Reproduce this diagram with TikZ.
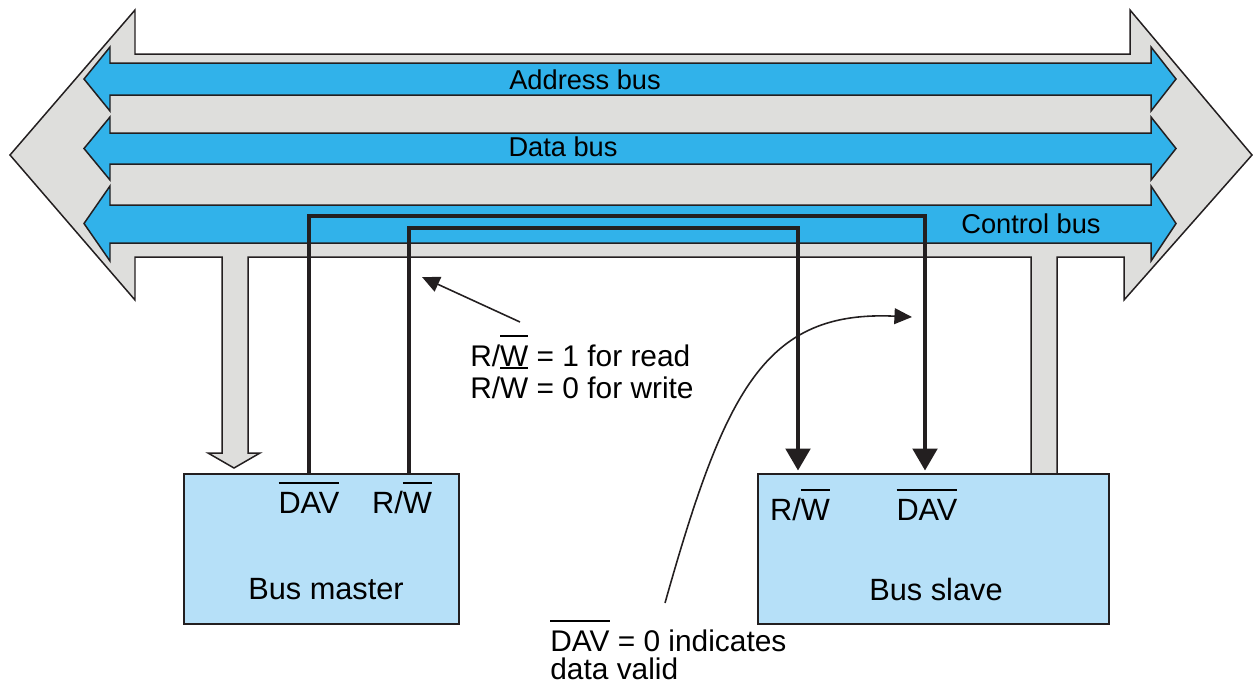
\documentclass[tikz,border=0pt]{standalone}
\usepackage{fontspec}
\setmainfont{Liberation Sans}
\usepackage{tikz}
\usetikzlibrary{positioning,arrows.meta}
\definecolor{busgray}{HTML}{DEDEDC}
\definecolor{busblue}{HTML}{31B2EA}
\definecolor{unitblue}{HTML}{B6E0F8}
\definecolor{ink}{HTML}{231F20}
% active-low signal name
\newcommand{\negsig}[1]{\vbox{\hrule height 1.1pt\kern 4.6pt\hbox{#1}}}
\tikzset{%
  bus shape/.style={
    draw=ink,
    line width=0.85pt,
    line join=miter
  },
  bus label/.style={
    anchor=base,
    inner sep=0pt,
    font=\fontsize{15.5}{18}\selectfont
  },
  unit/.style={
    draw=ink,
    line width=1.1pt,
    fill=unitblue,
    minimum height=3cm,
    inner sep=0pt
  },
  pin/.style={
    anchor=base,
    inner sep=0pt,
    font=\fontsize{17.5}{21}\selectfont
  },
  note/.style={
    anchor=base west,
    inner sep=0pt,
    font=\fontsize{17}{20}\selectfont
  },
  signal/.style={
    draw=ink,
    line width=2pt,
    line join=miter
  },
  pointer/.style={
    draw=ink,
    line width=0.9pt,
    -{Triangle[length=10pt,width=9pt]}
  },
}

\begin{document}
\begin{tikzpicture}[x=0.02cm, y=-0.02cm, >={Triangle[length=12.5pt,width=14pt]}]
\useasboundingbox (0,0) rectangle (1253,681);
% system bus
\draw[bus shape, fill=busgray] (10,155) -- (135,10) -- (135,54) -- (1130,54) -- (1130,10)
    -- (1252,155) -- (1124,300) -- (1124,257) -- (1057,257) -- (1057,474) -- (1031,474)
    -- (1031,257) -- (248,257) -- (248,453) -- (260,453) -- (234,468) -- (208,453)
    -- (222,453) -- (222,257) -- (135,257) -- (135,300) -- cycle;
\foreach \ya/\yb/\yc/\yd in {47/63/95/111, 117/133/164/180, 186/205/243/261}
    \draw[bus shape, fill=busblue] (84,{(\ya+\yd)/2}) -- (110,\ya) -- (110,\yb) -- (1151,\yb)
        -- (1151,\ya) -- (1176,{(\ya+\yd)/2}) -- (1151,\yd) -- (1151,\yc) -- (110,\yc)
        -- (110,\yd) -- cycle;
\node[bus label] (addr) at (585,89) {Address bus};
\node[bus label] (data) at (563,156) {Data bus};
\node[bus label] (ctrl) at (1031,233) {Control bus};
% master and slave
\node[unit, minimum width=5.5cm] (master) at (321.5,549) {};
\node[unit, minimum width=7.02cm] (slave) at (933.5,549) {};
\node[pin] (mdav) at (309,513) {\negsig{DAV}};
\node[pin] (mrw) at (402,513) {R/\negsig{W}};
\node[pin] (mname) at (326,599) {Bus master};
\node[pin] (srw) at (800,520) {R/\negsig{W}};
\node[pin] (sdav) at (927,520) {\negsig{DAV}};
\node[pin] (sname) at (936,600) {Bus slave};
% control lines
\coordinate (m dav) at (309,474);
\coordinate (m rw) at (409,474);
\coordinate (s rw) at (798,474);
\coordinate (s dav) at (925,474);
\coordinate (dav bend) at (0,216);
\coordinate (rw bend) at (0,228);
\draw[signal, ->, shorten >=2pt] (m dav) -- (m dav |- dav bend) -| (s dav);
\draw[signal, ->, shorten >=2pt] (m rw) -- (m rw |- rw bend) -| (s rw);
% notes
\node[note] (rw read) at (470,366) {R/\negsig{W} = 1 for read};
\node[note] (rw write) at (470,398) {R/\negsig{W} = 0 for write};
\node[note] (dav low) at (550,651) {\negsig{DAV} = 0 indicates};
\node[note] (dav valid) at (550,679) {data valid};
\coordinate (rw tail) at (520,322);
\coordinate (rw head) at (422,277);
\coordinate (dav tail) at (665,603);
\coordinate (dav head) at (912,317);
\draw[pointer] (rw tail) -- (rw head);
\draw[pointer] (dav tail) .. controls (725,390) and (765,310) .. (dav head);
\end{tikzpicture}
\end{document}
